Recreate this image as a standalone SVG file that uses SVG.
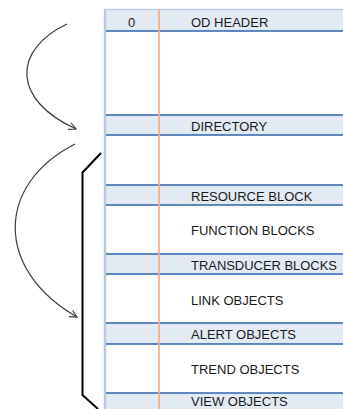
<svg xmlns="http://www.w3.org/2000/svg" width="343" height="409" viewBox="0 0 343 409">
<style>
.band{fill:#E3EAF4}
.sep{stroke:#2E63A8;stroke-width:1.5}
.lbl{font-family:"Liberation Sans",Arial,sans-serif;font-size:13px;fill:#1a1a1a}
.arc{fill:none;stroke:#3c3c3c;stroke-width:1.2;marker-end:url(#ah)}
</style>
<defs>
<marker id="ah" viewBox="0 0 10 10" refX="9" refY="5" markerWidth="9" markerHeight="9" markerUnits="userSpaceOnUse" orient="auto">
<path d="M1,1 L9,5 L1,9" fill="none" stroke="#3c3c3c" stroke-width="1.3"/>
</marker>
</defs>
<rect x="0" y="0" width="343" height="409" fill="#ffffff"/>
<g id="table">
<rect x="104" y="9" width="239" height="400" fill="#ffffff"/>
<g id="row-header"><rect class="band" x="105" y="10" width="238" height="21"/><text class="lbl" x="131.5" y="26.5" text-anchor="middle">0</text><text class="lbl" x="191" y="26.5">OD HEADER</text></g>
<g id="row-directory"><rect class="band" x="105" y="115" width="238" height="20"/><text class="lbl" x="191" y="131">DIRECTORY</text></g>
<g id="row-resource"><rect class="band" x="105" y="185" width="238" height="20"/><text class="lbl" x="191" y="200.5">RESOURCE BLOCK</text></g>
<g id="row-function"><text class="lbl" x="191" y="234.5">FUNCTION BLOCKS</text></g>
<g id="row-transducer"><rect class="band" x="105" y="254" width="238" height="20"/><text class="lbl" x="191" y="269.5" textLength="146">TRANSDUCER BLOCKS</text></g>
<g id="row-link"><text class="lbl" x="191" y="304.5">LINK OBJECTS</text></g>
<g id="row-alert"><rect class="band" x="105" y="323" width="238" height="21"/><text class="lbl" x="191" y="338.5">ALERT OBJECTS</text></g>
<g id="row-trend"><text class="lbl" x="191" y="373.5">TREND OBJECTS</text></g>
<g id="row-view"><rect class="band" x="105" y="393" width="238" height="16"/><text class="lbl" x="191" y="406">VIEW OBJECTS</text></g>
<line x1="104" y1="9.5" x2="343" y2="9.5" stroke="#BCD0EA" stroke-width="1.5"/>
<line x1="105" y1="9" x2="105" y2="409" stroke="#B7CBE6" stroke-width="2.5"/>
<g>
<line class="sep" x1="106" y1="31" x2="343" y2="31"/>
<line class="sep" x1="106" y1="115" x2="343" y2="115"/>
<line class="sep" x1="106" y1="135" x2="343" y2="135"/>
<line class="sep" x1="106" y1="185" x2="343" y2="185"/>
<line class="sep" x1="106" y1="205" x2="343" y2="205"/>
<line class="sep" x1="106" y1="254" x2="343" y2="254"/>
<line class="sep" x1="106" y1="274" x2="343" y2="274"/>
<line class="sep" x1="106" y1="323" x2="343" y2="323"/>
<line class="sep" x1="106" y1="344" x2="343" y2="344"/>
<line class="sep" x1="106" y1="393" x2="343" y2="393"/>
</g>
<line x1="159" y1="9" x2="159" y2="409" stroke="#F7A97A" stroke-width="1.6"/>
</g>
<g id="connectors">
<path class="arc" d="M67,24 C12,50 12,100 76,129"/>
<path class="arc" d="M75,144 C-5,185 -5,270 77,317"/>
<path d="M101,153 L82.5,172.5 L82.5,395 L98,409" fill="none" stroke="#000000" stroke-width="2"/>
</g>
</svg>
